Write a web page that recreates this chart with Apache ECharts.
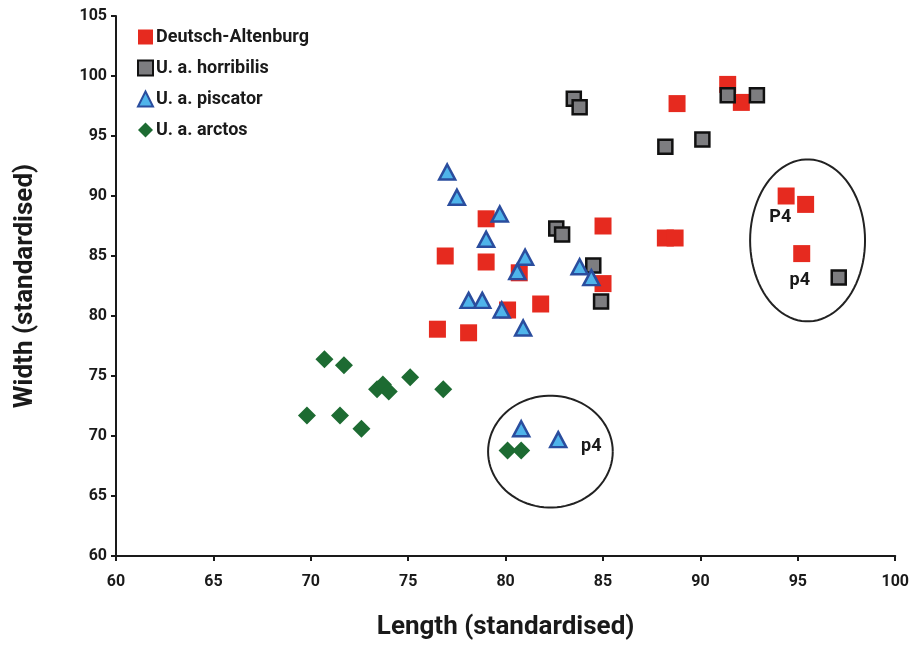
<!DOCTYPE html>
<html>
<head>
<meta charset="utf-8">
<script src="https://cdn.jsdelivr.net/npm/echarts@6/dist/echarts.min.js"></script>
<style>
  html, body { margin: 0; padding: 0; background: #fff; }
  #chart { width: 912px; height: 646px; }
</style>
</head>
<body>
<div id="chart"></div>
<script>
// Tooth measurements: [length, width], both standardised
const deutschAltenburg = [
  [76.5, 78.9], [78.1, 78.6], [76.9, 85.0], [79.0, 88.1], [79.0, 84.5],
  [80.7, 83.6], [80.1, 80.5], [81.8, 81.0], [85.0, 87.5], [85.0, 82.7],
  [88.2, 86.5], [88.7, 86.5], [88.8, 97.7], [91.4, 99.3], [92.1, 97.8],
  [94.4, 90.0], [95.4, 89.3], [95.2, 85.2]
];
const horribilis = [
  [83.5, 98.1], [83.8, 97.4], [82.6, 87.3], [82.9, 86.8], [84.5, 84.2],
  [84.9, 81.2], [88.2, 94.1], [90.1, 94.7], [91.4, 98.4], [92.9, 98.4],
  [97.1, 83.2]
];
const piscator = [
  [77.0, 92.0], [77.5, 89.9], [79.7, 88.5], [79.0, 86.4], [81.0, 84.9],
  [80.6, 83.7], [78.1, 81.3], [78.8, 81.3], [79.8, 80.5], [80.9, 79.0],
  [83.8, 84.1], [84.4, 83.2], [80.8, 70.6], [82.7, 69.7]
];
const arctos = [
  [70.7, 76.4], [71.7, 75.9], [73.4, 73.9], [73.7, 74.3], [74.0, 73.7],
  [75.1, 74.9], [76.8, 73.9], [69.8, 71.7], [71.5, 71.7], [72.6, 70.6],
  [80.1, 68.8], [80.8, 68.8]
];
const seriesNames = ['Deutsch-Altenburg', 'U. a. horribilis', 'U. a. piscator', 'U. a. arctos'];

// Encircled groups: [centre length, centre width, radius length, radius width]
const ellipses = [
  [95.5, 86.3, 2.95, 6.75],
  [82.3, 68.7, 3.2, 4.66]
];
// Tooth position labels: [length, width, text]
const toothLabels = [
  [94.1, 88.2, 'P4'],
  [95.1, 83.0, 'p4'],
  [84.4, 69.1, 'p4']
];

const FONT = 'Roboto, "Noto Sans", sans-serif';
const INK = '#1a1a1a';

const chart = echarts.init(document.getElementById('chart'), null, { renderer: 'canvas' });

function axisCommon(labelMargin) {
  return {
    min: 60,
    interval: 5,
    axisLine: { show: true, onZero: false, lineStyle: { color: INK, width: 2 } },
    axisTick: { show: true, length: 5, lineStyle: { color: INK, width: 2 } },
    splitLine: { show: false },
    axisLabel: { color: INK, fontFamily: FONT, fontWeight: 'bold', fontSize: 16, margin: labelMargin },
    nameLocation: 'middle',
    nameTextStyle: { color: INK, fontFamily: FONT, fontWeight: 'bold', fontSize: 26 }
  };
}

const option = {
  backgroundColor: '#fff',
  animation: false,
  grid: { left: 116, right: 15, top: 16, bottom: 90 },
  xAxis: Object.assign(axisCommon(18), {
    type: 'value',
    max: 100,
    name: 'Length (standardised)',
    nameGap: 58
  }),
  yAxis: Object.assign(axisCommon(9), {
    type: 'value',
    max: 105,
    name: 'Width (standardised)',
    nameGap: 78
  }),
  legend: {
    data: seriesNames,
    orient: 'vertical',
    left: 132,
    top: 23,
    itemWidth: 15,
    itemHeight: 15,
    itemGap: 13,
    textStyle: { color: INK, fontFamily: FONT, fontWeight: 'bold', fontSize: 18, padding: [0, 0, 0, -2] }
  },
  series: [
    {
      name: seriesNames[0],
      type: 'scatter',
      symbol: 'rect',
      symbolSize: 17,
      itemStyle: { color: '#e62a1f', opacity: 1 },
      data: deutschAltenburg
    },
    {
      name: seriesNames[1],
      type: 'scatter',
      symbol: 'rect',
      symbolSize: 14,
      itemStyle: { color: '#7d7d80', borderColor: '#111', borderWidth: 2.5, opacity: 1 },
      data: horribilis
    },
    {
      name: seriesNames[2],
      type: 'scatter',
      symbol: 'triangle',
      symbolSize: [16, 15],
      itemStyle: { color: '#4fb4ea', borderColor: '#2a4d9e', borderWidth: 2.5, opacity: 1 },
      data: piscator
    },
    {
      name: seriesNames[3],
      type: 'scatter',
      symbol: 'diamond',
      symbolSize: 18,
      itemStyle: { color: '#1d6b32', opacity: 1 },
      data: arctos
    },
    {
      name: 'groups',
      type: 'custom',
      silent: true,
      z: 5,
      data: ellipses,
      renderItem: function (params, api) {
        const c = api.coord([api.value(0), api.value(1)]);
        const s = api.size([api.value(2), api.value(3)]);
        const pts = [];
        for (let i = 0; i <= 90; i++) {
          const a = (i / 90) * Math.PI * 2;
          pts.push([c[0] + s[0] * Math.cos(a), c[1] + s[1] * Math.sin(a)]);
        }
        return {
          type: 'polyline',
          shape: { points: pts },
          style: { stroke: '#222', lineWidth: 2, fill: null }
        };
      }
    },
    {
      name: 'tooth labels',
      type: 'custom',
      silent: true,
      z: 6,
      data: toothLabels,
      renderItem: function (params, api) {
        const c = api.coord([api.value(0), api.value(1)]);
        return {
          type: 'text',
          x: c[0],
          y: c[1],
          style: {
            text: toothLabels[params.dataIndex][2],
            fill: INK,
            font: 'bold 18px ' + FONT,
            align: 'center',
            verticalAlign: 'middle'
          }
        };
      }
    }
  ]
};

chart.setOption(option);
</script>
</body>
</html>
